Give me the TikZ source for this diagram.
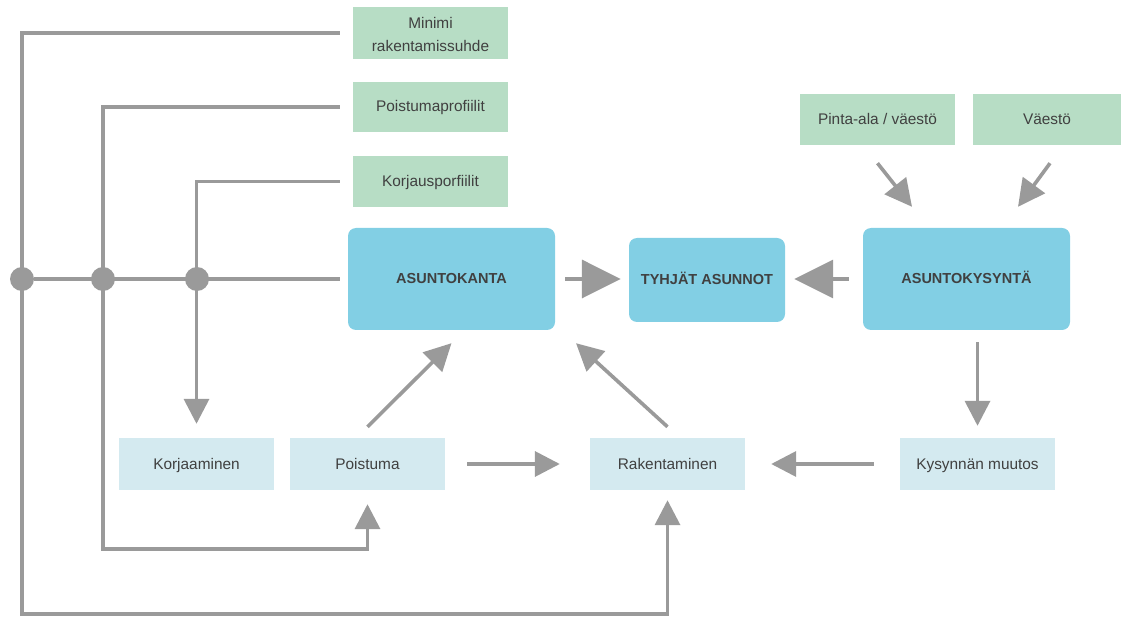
\documentclass[tikz,border=0pt]{standalone}
\usepackage{fontspec}
\setmainfont{Liberation Sans}
\usetikzlibrary{arrows.meta}
\pgfdeclarelayer{bg}
\pgfsetlayers{bg,main}
\definecolor{boxGreen}{HTML}{B7DDC5}
\definecolor{boxBlue}{HTML}{82CFE4}
\definecolor{boxPale}{HTML}{D4EAF0}
\definecolor{lineGray}{HTML}{9A9A9A}
\definecolor{txtGray}{HTML}{404040}
\begin{document}
\begin{tikzpicture}[x=1pt,y=-1pt,
  box/.style={rectangle, inner sep=0pt, text=txtGray, align=center,
    font=\fontsize{15.4}{23}\selectfont},
  oneline/.style={text height=1em, text depth=0pt},
  inbox/.style={box, fill=boxGreen, minimum width=155pt, minimum height=51pt},
  mainbox/.style={box, oneline, fill=boxBlue, rounded corners=8pt, minimum height=102pt,
    font=\fontsize{14.5}{18}\selectfont\bfseries},
  flowbox/.style={box, oneline, fill=boxPale, minimum width=155pt, minimum height=52pt},
  dot/.style={circle, fill=lineGray, minimum size=24pt, inner sep=0pt},
  conn/.style={draw=lineGray, line width=3.6pt},
  bigarr/.style={conn, -{Triangle[length=39pt,width=38pt]}},
  midarr/.style={conn, -{Triangle[length=27pt,width=27pt]}},
  arr/.style={conn, -{Triangle[length=25pt,width=25pt]}}
]
\useasboundingbox (0,0) rectangle (1121,617);

% input boxes
\node[inbox, minimum height=52pt] (mr) at (430.5,33) {\rule{0pt}{15pt}Minimi\\rakentamissuhde};
\node[inbox, oneline, minimum height=50pt] (pp) at (430.5,107) {Poistumaprofiilit};
\node[inbox, oneline] (kp) at (430.5,181.5) {Korjausporfiilit};
\node[inbox, oneline] (pa) at (877.5,119.5) {Pinta-ala / väestö};
\node[inbox, oneline, minimum width=148pt] (va) at (1047,119.5) {Väestö};

% main boxes
\node[mainbox, minimum width=207pt] (ak) at (451.5,279) {ASUNTOKANTA};
\node[mainbox, minimum width=156pt, minimum height=84pt] (ty) at (707,280) {TYHJÄT ASUNNOT};
\node[mainbox, minimum width=207pt] (aky) at (966.5,279) {ASUNTOKYSYNTÄ};

% flow boxes
\node[flowbox] (ko) at (196.5,464) {Korjaaminen};
\node[flowbox] (po) at (367.5,464) {Poistuma};
\node[flowbox] (ra) at (667.5,464) {Rakentaminen};
\node[flowbox] (km) at (977.5,464) {Kysynnän muutos};

% junction dots
\node[dot] (d1) at (22,279) {};
\node[dot] (d2) at (103,279) {};
\node[dot] (d3) at (197,279) {};
\coordinate (b1) at (22,614);
\coordinate (b2) at (103,549);

\begin{pgfonlayer}{bg}
  \draw[arr, shorten >=10pt] ([xshift=-13pt]mr.west) -| (b1) -| (ra.south);
  \draw[arr, shorten >=14pt] ([xshift=-13pt]pp.west) -| (b2) -| (po.south);
  \draw[arr, shorten >=14pt] ([xshift=-13pt]kp.west) -| (ko.north);
  \draw[conn] ([xshift=-8pt]ak.west) -- (d1);
\end{pgfonlayer}

% arrows
\draw[bigarr, shorten <=10pt, shorten >=8pt] (ak.east) -- (ty.west |- ak.east);
\draw[bigarr, shorten <=14pt, shorten >=9pt] (aky.west) -- (ty.east |- aky.west);
\draw[midarr] ([yshift=-18pt]pa.south) -- ([xshift=-54.5pt,yshift=21pt]aky.north);
\draw[midarr] ([xshift=3pt,yshift=-18pt]va.south) -- ([xshift=51.5pt,yshift=21pt]aky.north);
\draw[arr] ([xshift=11pt,yshift=-12pt]aky.south) -- ([yshift=12pt]km.north);
\draw[arr, shorten <=26pt, shorten >=26pt] (km.west) -- (ra.east |- km.west);
\draw[arr, shorten <=22pt, shorten >=30pt] (po.east) -- (ra.west |- po.east);
\draw[midarr] ([yshift=11pt]po.north) -- ([yshift=-13pt]ak.south);
\draw[midarr] ([yshift=11pt]ra.north) -- ([xshift=124.5pt,yshift=-13pt]ak.south);
\end{tikzpicture}
\end{document}
